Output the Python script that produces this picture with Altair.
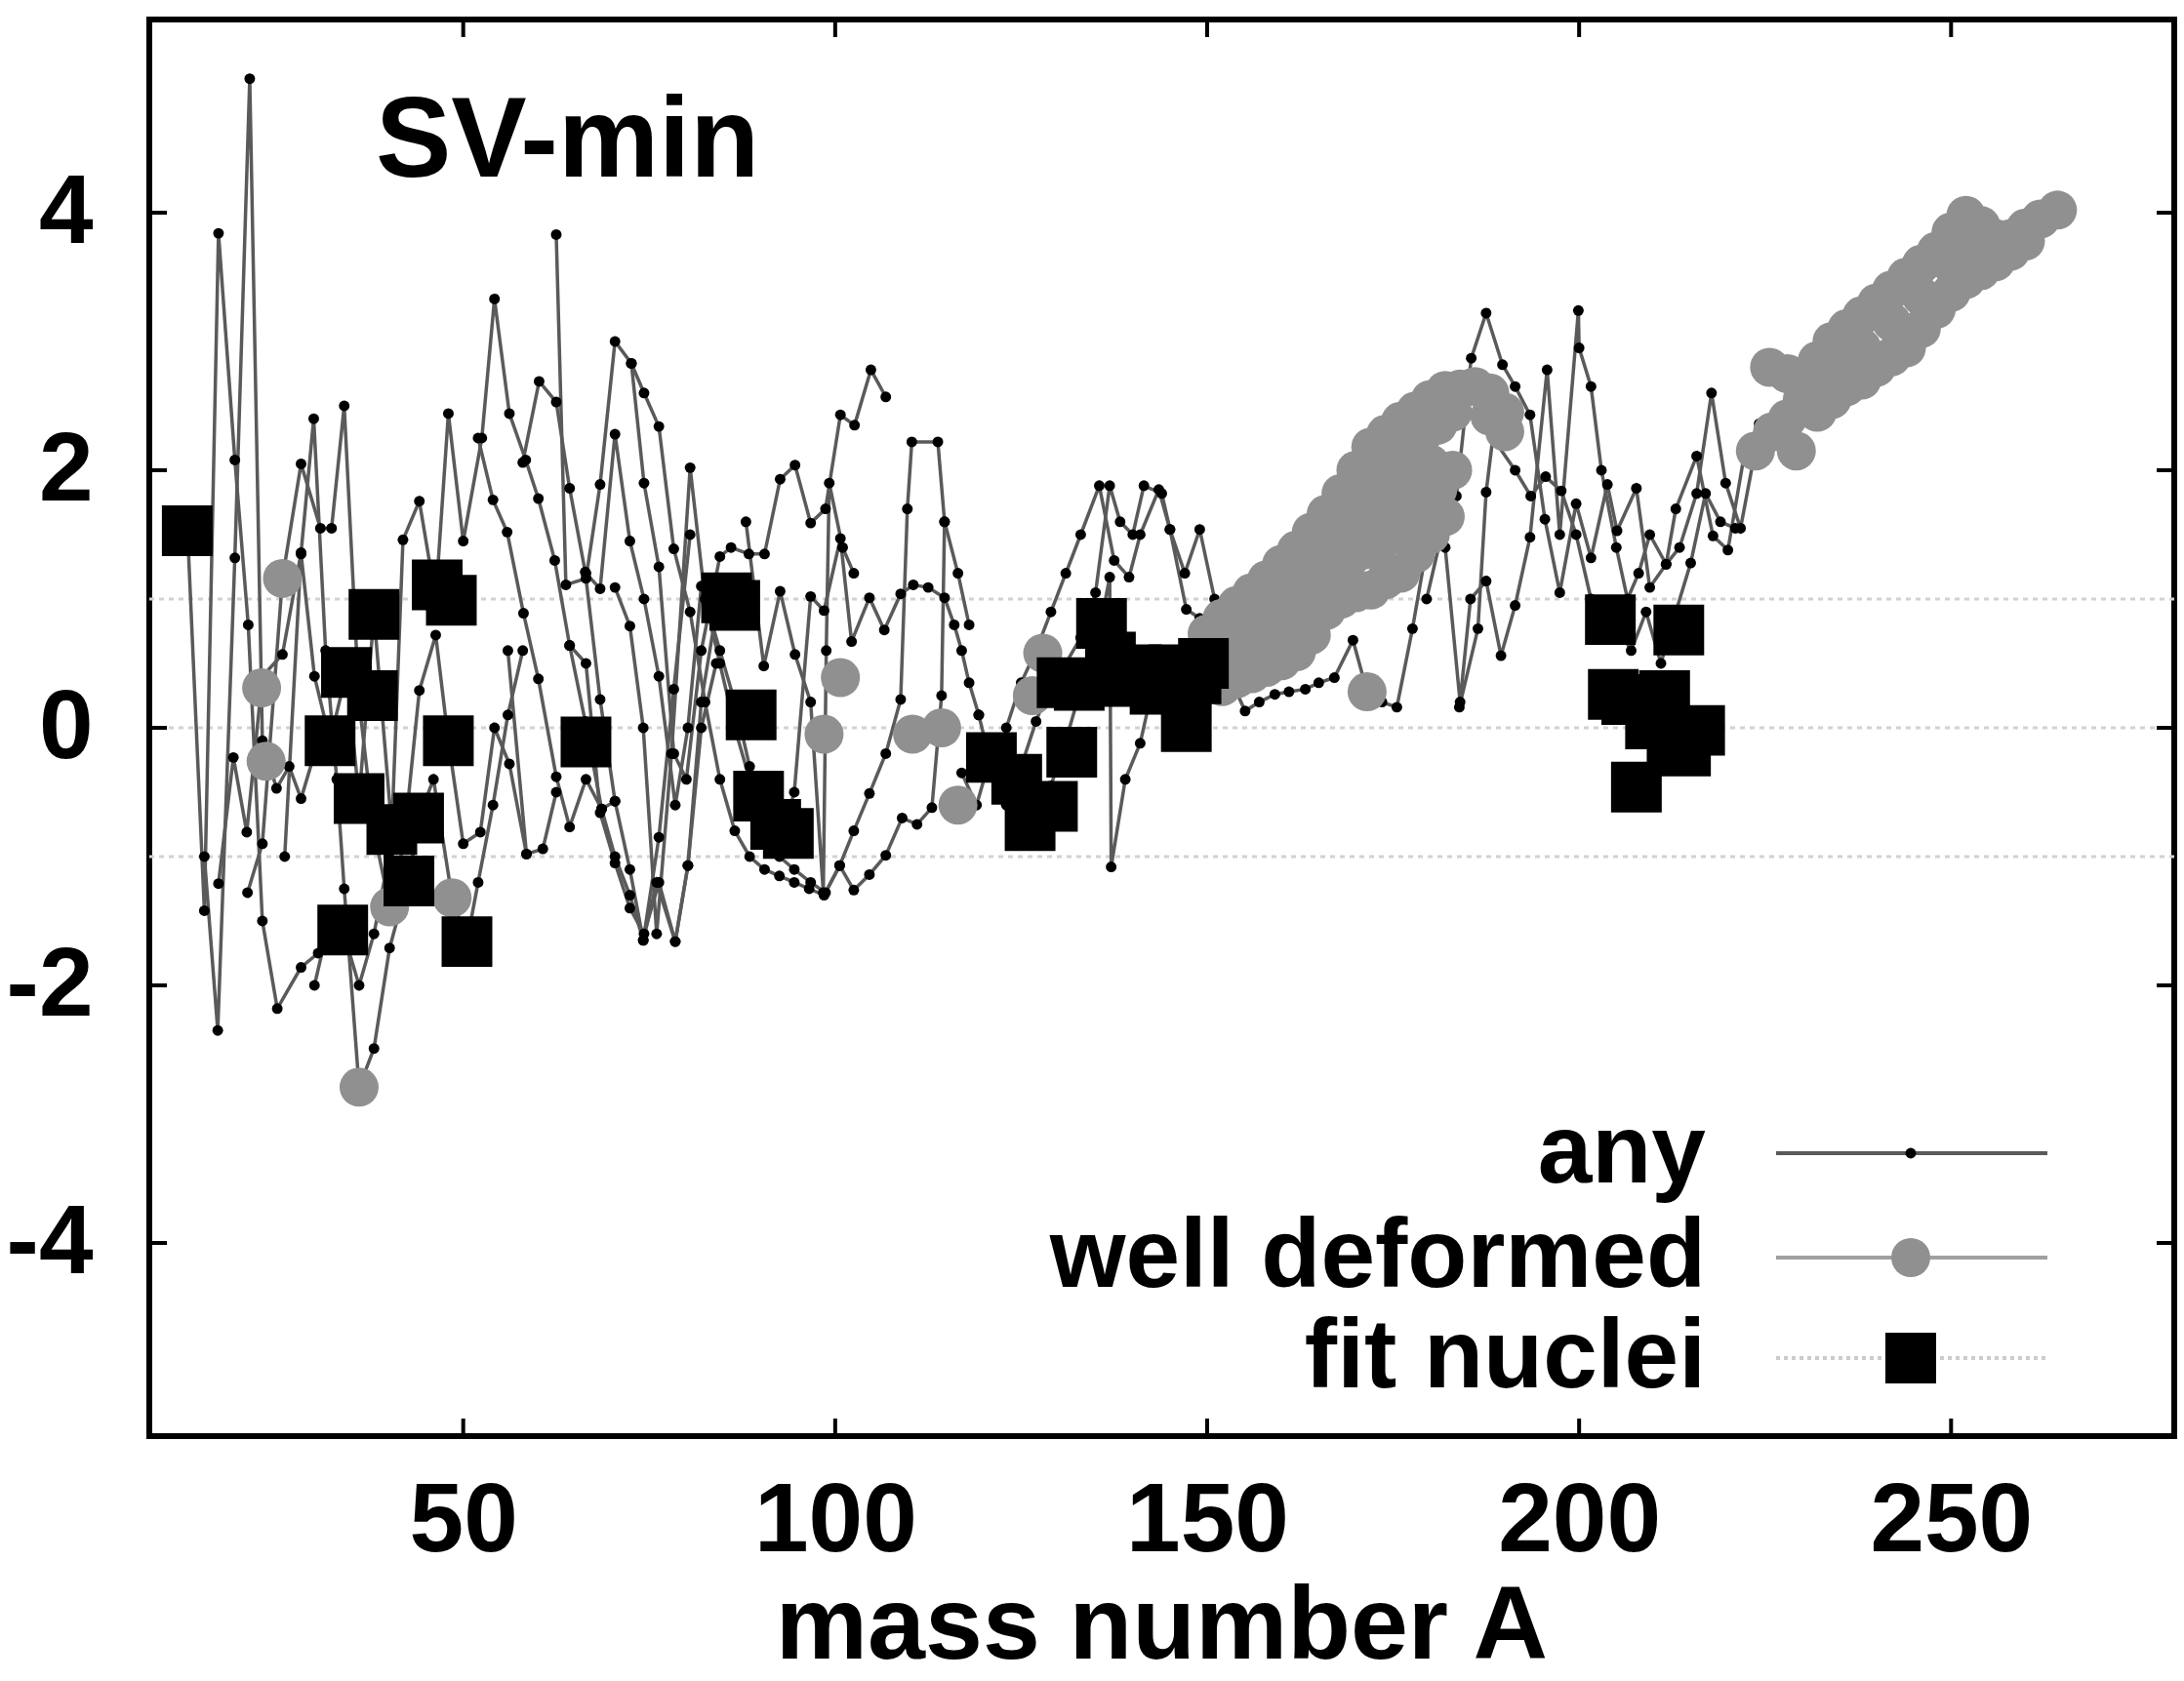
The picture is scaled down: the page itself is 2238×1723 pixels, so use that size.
import altair as alt
import pandas as pd

# ---------------- data ----------------
x_ticks = [50, 100, 150, 200, 250]
y_ticks = [-4, -2, 0, 2, 4]
ref_levels = [-1, 0, 1]

# "any": chains of (mass number A, SV-min deviation)
any_01 = [(13.0,1.45),(15.2,-1.42),(17.1,3.84),(19.3,2.08),(21.1,0.80),(23.0,-1.50),(25.0,-2.18),(28.2,-1.86),(30.5,-1.75)]
any_02 = [(15.2,-1.00),(17.0,-2.35),(19.3,1.32),(21.3,5.04),(23.0,-0.10),(24.9,-0.47),(26.6,-0.30),(28.2,-0.55),(30.0,-0.20)]
any_03 = [(17.1,-1.21),(19.1,-0.23),(20.9,-0.81),(23.0,0.40),(25.7,0.57),(28.2,1.36),(29.9,2.40),(31.5,0.60),(33.0,-0.40),(34.0,-1.25),(36.0,-2.79),(38.0,-2.49),(40.1,-1.71),(42.5,-1.20),(44.5,-0.60)]
any_04 = [(21.0,-1.28),(23.0,-0.90),(25.7,1.16),(28.2,2.05),(30.8,1.55),(32.3,1.55),(34.0,2.50),(36.0,0.20),(38.0,-0.80),(40.1,-1.39),(42.0,-0.90),(44.1,0.29),(46.3,0.72),(48.0,-0.10),(50.0,-0.90),(52.3,-0.81),(54.2,0.00),(56.2,-0.28),(58.5,-0.98)]
any_05 = [(26.0,-1.00),(28.2,1.35),(30.0,0.40),(32.1,-0.10),(34.3,0.43),(36.0,-0.55),(38.0,0.88),(40.4,-0.79),(41.9,1.46),(44.1,1.76),(46.3,1.00),(48.0,2.44),(50.0,1.45),(52.5,2.25),(54.2,3.33),(56.2,2.44),(58.4,2.08),(60.1,1.78),(62.3,1.30),(64.3,0.64),(66.4,0.05),(68.6,-0.63),(70.4,-0.57)]
any_06 = [(30.0,-2.00),(32.0,-1.50),(33.8,-1.57),(36.0,-2.00),(38.0,-1.60),(40.0,-1.00),(42.7,-1.19),(44.0,-0.70),(46.0,-0.40),(48.5,-1.32),(50.5,-1.66),(52.0,-1.20),(54.0,-0.60),(56.0,0.10),(58.0,0.60)]
any_07 = [(52.0,2.25),(54.0,1.77),(55.9,1.52),(58.1,0.89),(60.1,0.38),(62.5,-0.38),(64.3,-0.77),(66.5,-0.40),(68.6,-0.63),(70.4,-1.00),(72.4,-1.30),(74.2,-1.65),(76.3,-0.85),(78.3,0.30),(80.5,1.50)]
any_08 = [(56.0,0.60),(58.5,-0.98),(60.7,-0.94),(62.5,-0.50)]
any_09 = [(58.0,2.06),(60.2,2.69),(62.5,2.53),(64.3,1.86),(66.4,1.21),(68.4,0.22),(70.4,-0.57),(72.4,-1.10),(74.2,-1.65),(76.0,-1.20),(78.5,-1.66),(80.2,-1.07),(82.0,0.20),(84.0,0.90)]
any_10 = [(62.5,3.83),(63.8,1.11),(66.5,1.16),(68.4,1.89),(70.4,3.00),(72.6,2.83),(74.3,1.90),(76.3,1.25),(78.3,-0.20),(80.0,-0.40),(82.0,0.60),(84.5,1.33),(86.0,1.40),(88.4,1.35),(90.5,1.35),(92.6,1.93),(94.6,2.04),(96.7,1.59),(98.7,1.70),(100.7,2.43),(102.6,2.35),(104.8,2.78),(106.8,2.57)]
any_11 = [(64.3,0.64),(66.5,0.50),(68.4,-0.66),(70.4,-1.05),(72.4,-1.40),(74.3,-1.60),(76.3,-1.20),(78.5,-1.66),(80.2,-1.07),(82.0,0.00),(84.0,0.50)]
any_12 = [(66.5,1.20),(68.4,1.08),(70.4,2.28),(72.4,1.45),(74.3,1.00),(76.3,0.40),(78.5,-0.60),(80.2,0.00),(82.0,1.10),(84.5,0.60),(86.5,0.20),(88.5,-0.30),(90.5,-0.60),(92.5,-0.90),(94.5,-0.50),(96.7,1.02),(98.5,0.91),(100.7,1.47),(102.2,0.67),(104.6,1.01),(106.6,0.76),(108.8,1.04),(110.5,1.11),(112.5,1.09),(114.7,1.01),(116.0,0.80),(117.0,0.60),(118.0,0.35),(119.3,0.10)]
any_13 = [(70.4,1.09),(72.4,0.79),(74.2,0.00),(76.0,-1.60),(78.0,-0.20),(80.5,2.02),(82.5,1.00),(84.5,0.50),(86.5,0.00),(88.5,-0.40),(90.5,-0.70),(92.5,-1.00),(94.5,-1.10),(96.7,-1.20),(98.7,-1.28),(100.6,-1.07),(102.5,-0.80),(104.6,-0.51),(106.8,-0.20),(108.8,0.22),(109.7,1.70),(110.3,2.22),(113.8,2.22),(114.7,1.60),(116.5,1.20),(118.0,0.80)]
any_14 = [(72.6,2.83),(74.3,2.60),(76.3,2.34),(78.3,1.39),(80.5,0.90),(82.5,0.20),(84.5,-0.40),(86.5,-0.80),(88.5,-1.00),(90.5,-1.10),(92.5,-1.15),(94.5,-1.20),(96.5,-1.25),(98.5,-1.30),(100.6,-1.07),(102.5,-1.26),(104.6,-1.14),(106.8,-0.99),(109.0,-0.70),(111.0,-0.75),(113.0,-0.62),(114.3,0.25),(114.7,1.60)]
any_15 = [(88.0,1.60),(90.4,0.48),(92.6,1.06),(94.6,0.57),(96.7,0.20),(98.4,-1.28),(98.8,0.60),(99.2,1.90),(101.0,1.40),(102.5,1.20)]
any_16 = [(117.0,-0.35),(119.0,-0.60),(121.0,-0.20),(123.0,-0.50),(125.0,-0.30),(127.0,0.05),(129.0,0.35),(131.0,0.50),(133.0,0.70),(135.0,1.05),(136.9,1.88),(138.3,1.60),(140.0,1.50),(141.5,1.88),(143.9,1.82),(145.0,1.54),(147.2,0.92),(149.0,0.85),(151.0,0.60)]
any_17 = [(119.3,0.10),(121.0,-0.30),(123.0,-0.60),(125.0,-0.85),(127.0,-0.75),(129.0,-0.45),(131.0,-0.10),(133.0,0.30),(135.0,0.60),(136.9,1.17),(137.1,-1.08),(139.0,-0.40),(141.0,-0.12),(143.0,0.40),(145.0,0.20),(147.0,0.05),(149.0,0.40),(151.4,0.92),(153.0,0.40),(155.1,0.13),(157.0,0.20),(159.1,0.26),(161.0,0.28),(163.2,0.30),(165.0,0.35),(167.1,0.39),(169.6,0.68),(171.5,0.28),(173.5,0.20),(175.5,0.16),(177.6,0.77),(179.5,1.40),(181.5,1.80)]
any_18 = [(123.0,0.00),(125.0,0.35),(127.0,0.60),(129.0,0.90),(131.0,1.20),(133.0,1.50),(135.5,1.88),(137.5,1.30),(139.5,1.17),(141.0,1.50),(143.5,1.85),(145.0,1.54),(147.0,1.20),(149.0,1.54),(151.0,1.00)]
any_19 = [(179.5,1.00),(181.5,1.50),(183.5,1.80),(185.5,2.87),(187.5,3.22),(189.7,2.82),(191.4,2.65),(193.4,2.43),(195.4,1.62),(197.4,1.05),(199.6,1.74),(201.6,1.32),(203.8,1.89),(205.1,1.53),(207.7,1.86),(209.5,1.09),(211.7,1.27),(213.5,1.40),(215.8,1.82),(217.8,2.60),(219.7,1.90),(221.7,1.55),(223.5,2.10),(224.4,2.17)]
any_20 = [(182.0,1.40),(184.0,0.20),(185.4,1.00),(187.5,1.14),(189.5,0.56),(191.4,0.95),(193.4,1.48),(195.7,2.78),(197.4,1.50),(199.9,3.24),(200.0,2.95),(201.6,2.65),(203.0,2.00),(205.0,1.40),(206.5,1.00),(208.0,1.20),(209.5,1.50),(211.7,1.27),(213.0,1.70),(215.8,2.11),(218.0,1.49),(220.0,1.38),(222.2,2.12),(224.2,2.36)]
any_21 = [(183.9,0.16),(186.4,0.77),(187.5,1.83),(188.4,2.25),(191.4,2.00),(193.5,1.80),(195.5,1.95),(197.6,1.84),(199.6,1.50),(201.6,1.00),(203.5,0.90),(205.0,0.80),(207.0,0.60),(209.0,0.90),(211.0,0.50),(213.0,0.90),(215.0,1.28),(217.0,1.82),(219.0,1.60),(221.0,1.55)]

# "well deformed": gray circles
wd_low = [(22.9,0.31),(23.5,-0.26),(25.7,1.16),(36.0,-2.79),(40.1,-1.39),(48.5,-1.32),(98.5,-0.05),(100.7,0.39),(110.4,-0.05),(114.3,0.00),(116.5,-0.60),(126.5,0.25),(127.9,0.58),(171.5,0.28)]
wd_band1_up = [(150,0.73),(152,0.85),(154,0.95),(156,1.05),(158,1.15),(160,1.27),(162,1.38),(164,1.52),(166,1.66),(168,1.82),(170,2.00),(172,2.18),(174,2.28),(176,2.38),(178,2.46),(180,2.55),(182,2.62),(184,2.63),(186,2.65),(188,2.60),(190,2.45)]
wd_band1_um = [(151,0.60),(153,0.72),(155,0.80),(157,0.92),(159,1.02),(161,1.12),(163,1.25),(165,1.40),(167,1.55),(169,1.70),(171,1.85),(173,1.98),(175,2.08),(177,2.18),(179,2.28),(181,2.35),(183,2.45)]
wd_band1_mid = [(152,0.55),(154,0.62),(156,0.70),(158,0.80),(160,0.90),(162,1.00),(164,1.15),(166,1.30),(168,1.45),(170,1.60),(172,1.65),(174,1.75),(176,1.85),(178,1.95),(180,2.05)]
wd_band1_lm = [(153,0.45),(155,0.52),(157,0.60),(159,0.68),(161,0.75),(163,0.88),(165,1.05),(167,1.18),(169,1.30),(171,1.38),(173,1.42),(175,1.50),(177,1.62),(179,1.75),(181,1.85),(183,2.00)]
wd_band1_low = [(152,0.32),(154,0.38),(156,0.42),(158,0.47),(160,0.52),(162,0.59),(164,0.72),(166,0.91),(168,1.00),(170,1.05),(172,1.07),(174,1.15),(176,1.20),(178,1.35),(180,1.50),(182,1.64),(188,2.42),(190,2.30)]
wd_band2_up = [(225.6,2.80),(228,2.75),(230,2.72),(232,2.85),(234,3.00),(236,3.10),(238,3.20),(240,3.30),(242,3.40),(244,3.50),(246,3.60),(248,3.70),(250,3.85),(252,3.98),(254,3.90),(256,3.80),(258,3.80),(260,3.88),(262,3.95),(264.3,4.02)]
wd_band2_mid = [(230,2.55),(234,2.80),(238,2.95),(242,3.15),(246,3.35),(250,3.60),(254,3.75)]
wd_band2_low = [(223.7,2.15),(226,2.30),(228,2.40),(229.2,2.15),(232,2.45),(234,2.55),(236,2.65),(238,2.70),(240,2.80),(242,2.88),(244,2.95),(246,3.10),(248,3.25),(250,3.38),(252,3.48),(254,3.55),(256,3.62),(258,3.70),(260,3.78)]

# "fit nuclei": black squares
fit_A = [12.9, 32.1, 34.3, 37.8, 38.0, 36.0, 33.8, 40.4, 42.7, 44.0, 46.5, 48.4, 48.0, 50.5, 66.5,
         85.4, 86.5, 88.7, 89.7, 92.0, 93.7,
         121.0, 124.4, 126.2, 129.2, 130.5, 131.8, 132.8, 135.8, 137.0, 139.3, 140.5, 143.0, 145.5, 147.2, 148.5, 149.5,
         204.2, 204.6, 206.4, 207.7, 209.6, 211.5, 212.5, 213.4, 214.3, 216.2]
fit_S = [1.53, -0.10, 0.43, 0.25, 0.88, -0.55, -1.57, -0.79, -1.19, -0.70, 1.11, 0.99, -0.10, -1.66, -0.11,
         1.01, 0.95, 0.10, -0.53, -0.75, -0.82,
         -0.23, -0.40, -0.76, -0.61, 0.35, -0.19, 0.33, 0.81, 0.55, 0.36, 0.45, 0.30, 0.45, 0.01, 0.38, 0.50,
         0.84, 0.26, 0.22, -0.46, 0.03, 0.25, -0.12, 0.76, -0.18, -0.02]

legend_labels = ["any", "well deformed", "fit nuclei"]

# ---------------- tables ----------------
any_chains = [any_01, any_02, any_03, any_04, any_05, any_06, any_07, any_08, any_09, any_10, any_11,
              any_12, any_13, any_14, any_15, any_16, any_17, any_18, any_19, any_20, any_21]
rows = []
for ci, ch in enumerate(any_chains):
    for k, (a, s) in enumerate(ch):
        rows.append({"A": a, "S": s, "chain": ci, "k": k})
any_df = pd.DataFrame(rows)

wd_sets = [wd_low, wd_band1_low, wd_band1_lm, wd_band1_mid, wd_band1_um, wd_band1_up,
           wd_band2_low, wd_band2_mid, wd_band2_up]
wd_df = pd.DataFrame([{"A": a, "S": s} for st in wd_sets for (a, s) in st])
fit_df = pd.DataFrame({"A": fit_A, "S": fit_S})

W, H = 2075, 1452
FONT = "Liberation Sans"

xs = alt.Scale(domain=[7.8, 280], nice=False, zero=False)
ys = alt.Scale(domain=[-5.5, 5.5], nice=False, zero=False)

X = alt.X("A:Q", scale=xs, axis=alt.Axis(values=x_ticks, ticks=False, domain=False, grid=False,
          labelFontSize=100, labelFont=FONT, labelFontWeight="bold", labelColor="black",
          labelPadding=38, title=None))
Y = alt.Y("S:Q", scale=ys, axis=alt.Axis(values=y_ticks, ticks=False, domain=False, grid=False,
          labelFontSize=100, labelFont=FONT, labelFontWeight="bold", labelColor="black",
          labelPadding=58, labelExpr="'' + datum.value", title=None))

ref = alt.Chart(pd.DataFrame({"S": ref_levels})).mark_rule(
    color="#d2d2d2", strokeWidth=3, strokeDash=[5, 5]).encode(y=alt.Y("S:Q", scale=ys))

any_lines = alt.Chart(any_df).mark_line(color="#5a5a5a", strokeWidth=3.5).encode(
    x=X, y=Y, detail="chain:N", order="k:Q")
any_dots = alt.Chart(any_df).mark_circle(color="black", size=120, opacity=1).encode(x=X, y=Y)
wd_pts = alt.Chart(wd_df).mark_circle(color="#909090", size=1600, opacity=1).encode(x=X, y=Y)
fit_pts = alt.Chart(fit_df).mark_square(color="black", size=2700, opacity=1).encode(x=X, y=Y)

xt = pd.DataFrame({"A": x_ticks})
yt = pd.DataFrame({"S": y_ticks})
TL = 18
tick_b = alt.Chart(xt).mark_rule(color="black", strokeWidth=4).encode(
    x=alt.X("A:Q", scale=xs), y=alt.value(H), y2=alt.value(H - TL))
tick_t = alt.Chart(xt).mark_rule(color="black", strokeWidth=4).encode(
    x=alt.X("A:Q", scale=xs), y=alt.value(0), y2=alt.value(TL))
tick_l = alt.Chart(yt).mark_rule(color="black", strokeWidth=4).encode(
    y=alt.Y("S:Q", scale=ys), x=alt.value(0), x2=alt.value(TL))
tick_r = alt.Chart(yt).mark_rule(color="black", strokeWidth=4).encode(
    y=alt.Y("S:Q", scale=ys), x=alt.value(W), x2=alt.value(W - TL))

one = pd.DataFrame({"k": [0]})
title_txt = alt.Chart(one).mark_text(text="SV-min", font=FONT, fontWeight="bold", fontSize=116,
                                     align="left", baseline="middle", color="black").encode(
    x=alt.value(232), y=alt.value(126))
xtitle = alt.Chart(one).mark_text(text="mass number A", font=FONT, fontWeight="bold", fontSize=106,
                                  align="center", baseline="alphabetic", color="black").encode(
    x=alt.value(W / 2), y=alt.value(1680))

# legend (inside, bottom right)
LY = [1162, 1269, 1372]
LX_TEXT, LX0, LX1, LXM = 1595, 1667, 1945, 1805
leg = []
for lab, yy in zip(legend_labels, LY):
    leg.append(alt.Chart(one).mark_text(text=lab, font=FONT, fontWeight="bold", fontSize=100,
                                        align="right", baseline="middle", color="black").encode(
        x=alt.value(LX_TEXT), y=alt.value(yy)))
leg.append(alt.Chart(one).mark_rule(color="#5a5a5a", strokeWidth=4).encode(
    x=alt.value(LX0), x2=alt.value(LX1), y=alt.value(LY[0])))
leg.append(alt.Chart(one).mark_circle(color="black", size=120, opacity=1).encode(
    x=alt.value(LXM), y=alt.value(LY[0])))
leg.append(alt.Chart(one).mark_rule(color="#a0a0a0", strokeWidth=4).encode(
    x=alt.value(LX0), x2=alt.value(LX1), y=alt.value(LY[1])))
leg.append(alt.Chart(one).mark_circle(color="#909090", size=1600, opacity=1).encode(
    x=alt.value(LXM), y=alt.value(LY[1])))
leg.append(alt.Chart(one).mark_rule(color="#cccccc", strokeWidth=4, strokeDash=[4, 4]).encode(
    x=alt.value(LX0), x2=alt.value(LX1), y=alt.value(LY[2])))
leg.append(alt.Chart(one).mark_square(color="black", size=2700, opacity=1).encode(
    x=alt.value(LXM), y=alt.value(LY[2])))

chart = alt.layer(ref, any_lines, any_dots, wd_pts, fit_pts,
                  tick_b, tick_t, tick_l, tick_r, title_txt, xtitle, *leg).properties(
    width=W, height=H,
    autosize=alt.AutoSizeParams(type="none"),
    padding={"left": 153, "top": 20, "right": 10, "bottom": 251},
    background="white",
).configure_view(stroke="black", strokeWidth=6)

chart.save("out.html", embed_options={"renderer": "svg", "actions": False})
